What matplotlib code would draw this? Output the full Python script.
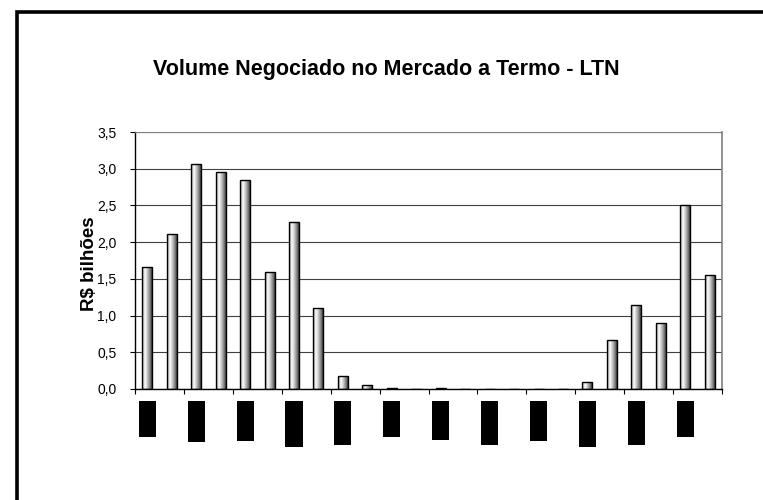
import numpy as np
import matplotlib
matplotlib.use('Agg')
import matplotlib.pyplot as plt
from matplotlib.patches import Rectangle
from matplotlib.colors import LinearSegmentedColormap
from matplotlib.transforms import blended_transform_factory

# volume negociado, R$ bilhoes (24 periodos)
volumes = [1.66, 2.11, 3.07, 2.96, 2.85, 1.60, 2.27, 1.10, 0.18, 0.05, 0.02, 0.0,
           0.02, 0.0, 0.0, 0.0, 0.0, 0.0, 0.09, 0.67, 1.14, 0.90, 2.51, 1.55]
yticks = [0.0, 0.5, 1.0, 1.5, 2.0, 2.5, 3.0, 3.5]
ytick_labels = ['0,0', '0,5', '1,0', '1,5', '2,0', '2,5', '3,0', '3,5']
# the x labels come out as solid black blocks in the source, one every 2 bars
label_box_px = [36, 41, 40, 46, 44, 36, 39, 44, 40, 46, 44, 36]

plt.rcParams['font.family'] = ['Liberation Sans', 'DejaVu Sans']

W, H = 763, 500
fig = plt.figure(figsize=(W / 100, H / 100), dpi=100)
ax = fig.add_axes([135 / W, 1 - 389 / H, (722 - 135) / W, (389 - 132) / H])

x = np.arange(len(volumes)) + 0.5
bars = ax.bar(x, volumes, width=0.41, facecolor='none', edgecolor='black',
              linewidth=1.0, zorder=3)

# cylinder-like shading inside each bar
shade = LinearSegmentedColormap.from_list(
    'cyl', [(0.0, '#9a9a9a'), (0.28, '#ffffff'), (0.55, '#b8b8b8'),
            (0.8, '#6a6a6a'), (1.0, '#202020')])
grad = np.linspace(0, 1, 64).reshape(1, -1)
for b in bars:
    h = b.get_height()
    if h <= 0:
        continue
    x0 = b.get_x()
    im = ax.imshow(grad, cmap=shade, aspect='auto', zorder=2,
                   extent=[x0, x0 + b.get_width(), 0, h], interpolation='bilinear')
    im.set_clip_path(b)

ax.set_xlim(0, len(volumes))
ax.set_ylim(0, 3.5)
ax.set_yticks(yticks)
ax.set_yticklabels(ytick_labels, fontsize=10)
ax.set_xticks(np.arange(0, len(volumes) + 1, 2))
ax.set_xticklabels([])
ax.tick_params(axis='y', length=3.5, width=0.8, pad=10, direction='out')
ax.tick_params(axis='x', length=3.5, width=0.8, direction='out')
ax.yaxis.grid(True, color='#404040', linewidth=0.8, zorder=0)
ax.set_axisbelow(True)
for s in ['left', 'bottom']:
    ax.spines[s].set_color('black')
    ax.spines[s].set_linewidth(1.0)
ax.spines['right'].set_color('#808080')
ax.spines['right'].set_linewidth(1.2)
ax.spines['top'].set_color('#808080')
ax.spines['top'].set_linewidth(0.8)

# black label blocks below the axis
tr = blended_transform_factory(ax.transData, fig.transFigure)
for i, L in enumerate(label_box_px):
    xc = x[2 * i]
    ax.add_patch(Rectangle((xc - 0.35, 1 - (401 + L) / H), 0.7, L / H,
                           transform=tr, facecolor='black', edgecolor='none',
                           clip_on=False))

fig.text(89 / W, 1 - 264 / H, 'R$ bilhões', rotation=90, ha='center', va='center',
         fontsize=13.5, fontweight='bold')

fig.text(386 / W, 1 - 70 / H, 'Volume Negociado no Mercado a Termo - LTN',
         ha='center', va='center', fontsize=15.5, fontweight='bold')

# outer chart frame (runs off the right and bottom edges)
fig.patches.append(Rectangle((16.5 / W, -0.1), 2.0, 1.1 - 12.5 / H,
                             transform=fig.transFigure, facecolor='none',
                             edgecolor='black', linewidth=2.6))

fig.savefig('out.png', dpi=100)
